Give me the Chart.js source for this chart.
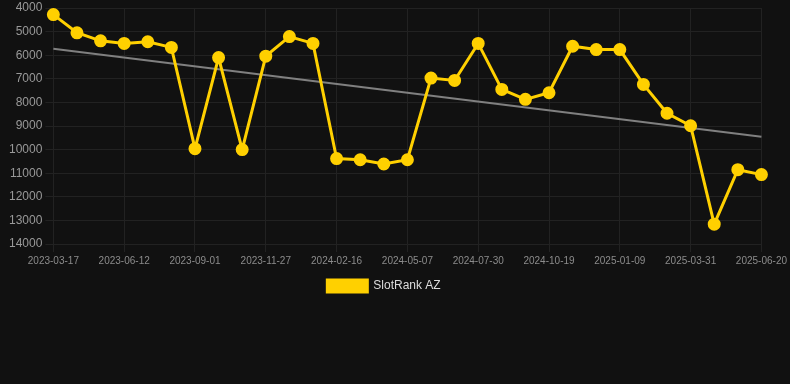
<!DOCTYPE html>
<html>
<head>
<meta charset="utf-8">
<script src="https://cdn.jsdelivr.net/npm/chart.js@4"></script>
<style>
  html, body { margin: 0; padding: 0; background: #111111; }
  #wrap { width: 790px; height: 302px; }
</style>
</head>
<body>
<div id="wrap"><canvas id="myChart"></canvas></div>
<script>
// dates on the x axis (every 3rd one is shown)
const dates = [
  '2023-03-17', '2023-04-15', '2023-05-14', '2023-06-12', '2023-07-09', '2023-08-05',
  '2023-09-01', '2023-09-30', '2023-10-29', '2023-11-27', '2023-12-24', '2024-01-20',
  '2024-02-16', '2024-03-14', '2024-04-10', '2024-05-07', '2024-06-04', '2024-07-02',
  '2024-07-30', '2024-08-26', '2024-09-22', '2024-10-19', '2024-11-15', '2024-12-13',
  '2025-01-09', '2025-02-05', '2025-03-04', '2025-03-31', '2025-04-27', '2025-05-24',
  '2025-06-20'
];
// rank values
const rankValues = [
  4280, 5050, 5390, 5500, 5430, 5670, 9960, 6100, 10000, 6040, 5210, 5500,
  10380, 10430, 10610, 10430, 6970, 7070, 5500, 7450, 7870, 7590, 5620, 5760,
  5760, 7240, 8460, 8990, 13160, 10850, 11060
];
// trend line, only both ends are known
const trendValues = [5730];
for (let i = 1; i < dates.length - 1; i++) trendValues.push(null);
trendValues.push(9460);

const yTicks = { min: 4000, max: 14000, step: 1000 };

const ctx = document.getElementById('myChart').getContext('2d');
const config = {
  type: 'line',
  data: {
    labels: dates,
    datasets: [{
      label: 'SlotRank AZ',
      data: rankValues,
      borderColor: '#FFD000',
      backgroundColor: '#FFD000',
      borderWidth: 3,
      pointRadius: 5,
      pointHoverRadius: 5,
      pointBackgroundColor: '#FFD000',
      pointBorderColor: '#FFD000',
      tension: 0,
      fill: false
    }, {
      label: 'trend',
      data: trendValues,
      borderColor: '#808080',
      borderWidth: 2,
      pointRadius: 0,
      spanGaps: true,
      fill: false
    }]
  },
  options: {
    responsive: true,
    maintainAspectRatio: false,
    animation: false,
    layout: { padding: { left: 6, right: 28, top: 0 } },
    plugins: {
      legend: {
        position: 'bottom',
        labels: {
          color: '#dddddd',
          font: { family: 'Arial, Liberation Sans', size: 12 },
          boxWidth: 40,
          boxHeight: 12,
          filter: item => item.text !== 'trend'
        }
      },
      tooltip: { enabled: false }
    },
    scales: {
      x: {
        grid: {
          color: c => (c.index % 3 === 0 ? '#222222' : 'transparent'),
          tickColor: c => (c.index % 3 === 0 ? '#222222' : 'transparent')
        },
        border: { color: '#222222' },
        ticks: {
          color: '#8c8c8c',
          font: { family: 'Arial, Liberation Sans', size: 10 },
          autoSkip: false,
          maxRotation: 0,
          callback: function (v, i) { return i % 3 === 0 ? this.getLabelForValue(v) : ''; }
        }
      },
      y: {
        reverse: true,
        min: yTicks.min,
        max: yTicks.max,
        grid: { color: '#222222', tickColor: '#222222' },
        border: { color: '#222222' },
        ticks: {
          stepSize: yTicks.step,
          color: '#999999',
          font: { family: 'Arial, Liberation Sans', size: 12, lineHeight: 0.7 },
          callback: v => String(v)
        }
      }
    }
  }
};
const myChart = new Chart(ctx, config);
</script>
</body>
</html>
